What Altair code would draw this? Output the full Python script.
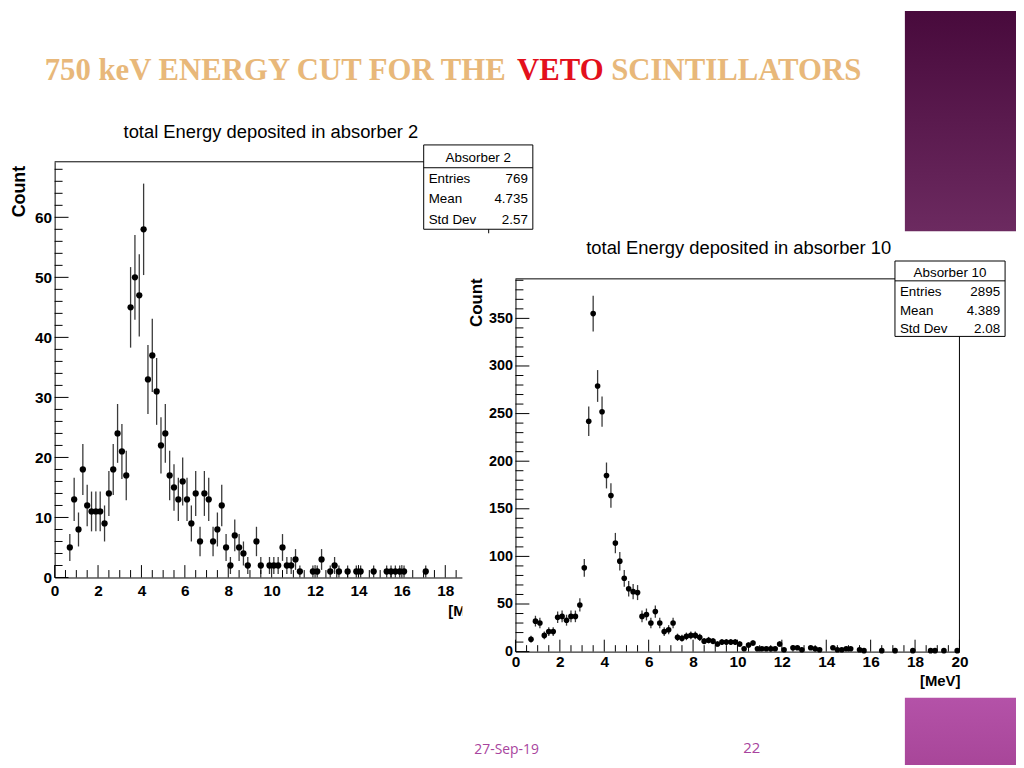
import altair as alt
import numpy as np
import pandas as pd

# ---------------- values ----------------
abs2_energy = [0.7, 0.9, 1.1, 1.3, 1.5, 1.7, 1.9, 2.1, 2.3, 2.5, 2.7, 2.9, 3.1, 3.3,
               3.5, 3.7, 3.9, 4.1, 4.3, 4.5, 4.7, 4.9, 5.1, 5.3, 5.5, 5.7, 5.9, 6.1,
               6.3, 6.5, 6.7, 6.9, 7.1, 7.3, 7.5, 7.7, 7.9, 8.1, 8.3, 8.5, 8.7, 8.9,
               9.3, 9.5, 9.9, 10.1, 10.3, 10.5, 10.7, 10.9, 11.1, 11.3, 11.9, 12.1,
               12.3, 12.7, 12.9, 13.1, 13.5, 13.9, 14.1, 14.7, 15.3, 15.5, 15.7, 15.9,
               16.1, 17.1]
abs2_counts = [5, 13, 8, 18, 12, 11, 11, 11, 9, 14, 18, 24, 21, 17,
               45, 50, 47, 58, 33, 37, 31, 22, 24, 17, 15, 13, 16, 13,
               9, 14, 6, 14, 13, 6, 8, 12, 5, 2, 7, 5, 4, 2,
               6, 2, 2, 2, 2, 5, 2, 2, 3, 1, 1, 1,
               3, 1, 2, 1, 1, 1, 1, 1, 1, 1, 1, 1,
               1, 1]

abs10_energy = [0.7, 0.9, 1.1, 1.3, 1.5, 1.7, 1.9, 2.1, 2.3, 2.5,
                2.7, 2.9, 3.1, 3.3, 3.5, 3.7, 3.9, 4.1, 4.3, 4.5,
                4.7, 4.9, 5.1, 5.3, 5.5, 5.7, 5.9, 6.1, 6.3, 6.5,
                6.7, 6.9, 7.1, 7.3, 7.5, 7.7, 7.9, 8.1, 8.3, 8.5,
                8.7, 8.9, 9.1, 9.3, 9.5, 9.7, 9.9, 10.1, 10.3, 10.5,
                10.7, 10.9, 11.1, 11.3, 11.5, 11.7, 11.9, 12.1, 12.5, 12.7,
                12.9, 13.3, 13.5, 13.7, 14.3, 14.5, 14.7, 14.9, 15.1, 15.5,
                15.7, 16.5, 17.1, 17.9, 18.7, 18.9, 19.3, 19.9]
abs10_counts = [13, 32, 30, 17, 21, 21, 36, 37, 33, 37,
                37, 49, 88, 242, 355, 279, 252, 185, 164, 114,
                95, 77, 66, 63, 62, 37, 39, 30, 42, 30,
                21, 23, 30, 15, 14, 16, 17, 17, 15, 11,
                12, 11, 8, 10, 10, 10, 10, 8, 3, 7,
                9, 3, 3, 3, 3, 3, 8, 2, 4, 4,
                2, 4, 3, 2, 4, 2, 2, 3, 3, 2,
                1, 1, 1, 1, 1, 1, 1, 1]

stat_names = ["Entries", "Mean", "Std Dev"]
abs2_stat_values = ["769", "4.735", "2.57"]
abs10_stat_values = ["2895", "4.389", "2.08"]

slide_title = ["750 keV ENERGY CUT FOR THE", "VETO", "SCINTILLATORS"]
hist_titles = ["total Energy deposited in absorber 2", "total Energy deposited in absorber 10"]
footer_date = "27-Sep-19"
footer_page = "22"

# ---------------- layout helpers ----------------
M = 8
W, H = 1016, 760
SANS = "Liberation Sans, Arial, Helvetica, sans-serif"
one = pd.DataFrame({"k": [0]})


def X(p):
    return p - M


def Y(p):
    return p - M


def text(x, y, s, size, color="black", font=SANS, weight="normal",
         align="left", angle=0, baseline="alphabetic"):
    return alt.Chart(one).mark_text(
        text=s, fontSize=size, color=color, font=font, fontWeight=weight,
        align=align, angle=angle, baseline=baseline
    ).encode(x=alt.value(X(x)), y=alt.value(Y(y)))


def rule(x1, y1, x2=None, y2=None, color="black", width=1.0):
    enc = dict(x=alt.value(X(x1)), y=alt.value(Y(y1)))
    if x2 is not None:
        enc["x2"] = alt.value(X(x2))
    if y2 is not None:
        enc["y2"] = alt.value(Y(y2))
    return alt.Chart(one).mark_rule(color=color, strokeWidth=width).encode(**enc)


def box(x1, y1, x2, y2, fill="white", stroke="black", width=1.0):
    kw = dict(fill=fill)
    if stroke is not None:
        kw.update(stroke=stroke, strokeWidth=width)
    return alt.Chart(one).mark_rect(**kw).encode(
        x=alt.value(X(x1)), x2=alt.value(X(x2)),
        y=alt.value(Y(y1)), y2=alt.value(Y(y2)))


def stat_box(x1, y1, x2, y2, ysep, header, hbase, rbases, values):
    parts = [box(x1, y1, x2, y2), rule(x1, ysep, x2=x2),
             text((x1 + x2) / 2, hbase, header, 13.5, align="center")]
    for name, val, b in zip(stat_names, values, rbases):
        parts.append(text(x1 + 5, b, name, 13.5))
        parts.append(text(x2 - 5, b, val, 13.5, align="right"))
    return parts


def histogram(energy, counts, x0, x20, y0, ytop, ymax, ymajor, yminor,
              psize, z, xt_len, yt_len, xpad, ylab):
    df = pd.DataFrame({"E": energy, "N": counts})
    xs = alt.Scale(domain=[0, 20], range=[X(x0), X(x20)], nice=False, zero=False)
    ys = alt.Scale(domain=[0, ymax], range=[Y(y0), Y(ytop)], nice=False, zero=False)
    common = dict(ticks=False, domainColor="black", domainWidth=1,
                  labelFont=SANS, labelFontWeight="bold",
                  labelColor="black", labelFlush=False, labelOverlap=False,
                  grid=False, title=None, zindex=z)
    xaxis = alt.Axis(orient="bottom", offset=Y(y0) - H, labelFontSize=15.5,
                     values=list(range(0, 21, 2)), labelPadding=xpad, **common)
    yaxis = alt.Axis(orient="left", offset=-X(x0), values=ymajor,
                     labelFontSize=ylab, labelPadding=3, **common)

    base = alt.Chart(df)
    # the first layer carries both axes, so that they are not merged away
    err = base.transform_calculate(
        lo="datum.N - sqrt(datum.N)", hi="datum.N + sqrt(datum.N)"
    ).mark_rule(color="#3a3a3a", strokeWidth=1.3).encode(
        x=alt.X("E:Q", scale=xs, axis=xaxis),
        y=alt.Y("lo:Q", scale=ys, axis=yaxis),
        y2="hi:Q")
    pts = base.mark_circle(size=psize, color="black", opacity=1).encode(
        x=alt.X("E:Q", scale=xs, axis=xaxis),
        y=alt.Y("N:Q", scale=ys, axis=yaxis))

    xmaj = pd.DataFrame({"t": np.arange(0, 20.01, 2.0)})
    xmin = pd.DataFrame({"t": [v for v in np.arange(0, 20.01, 0.5) if v % 2 != 0]})
    ymaj = pd.DataFrame({"t": ymajor})
    ymin = pd.DataFrame({"t": [v for v in yminor if v not in ymajor]})

    def xticks(d, L):
        return alt.Chart(d).mark_rule(color="black", strokeWidth=1).encode(
            x=alt.X("t:Q", scale=xs, axis=xaxis),
            y=alt.value(Y(y0)), y2=alt.value(Y(y0) - L))

    def yticks(d, L):
        return alt.Chart(d).mark_rule(color="black", strokeWidth=1).encode(
            y=alt.Y("t:Q", scale=ys, axis=yaxis),
            x=alt.value(X(x0)), x2=alt.value(X(x0) + L))

    frame = [rule(x0, ytop, x2=x20), rule(x20, ytop, y2=y0)]
    return [err, pts, xticks(xmaj, xt_len[0]), xticks(xmin, xt_len[1]),
            yticks(ymaj, yt_len[0]), yticks(ymin, yt_len[1])] + frame


# ---------------- decoration of the slide ----------------
purple_top = alt.Gradient(gradient="linear", x1=0, x2=0, y1=0, y2=1, stops=[
    alt.GradientStop(color="#480a3c", offset=0),
    alt.GradientStop(color="#6c2a60", offset=1)])
purple_bottom = alt.Gradient(gradient="linear", x1=0, x2=0, y1=0, y2=1, stops=[
    alt.GradientStop(color="#b452a8", offset=0),
    alt.GradientStop(color="#a84699", offset=1)])

decor = [
    box(912, M, 1024, 230, fill=purple_top, stroke=None),
    box(912, 700, 1024, M + H, fill=purple_bottom, stroke=None),
    text(45, 78, slide_title[0], 31, color="#E8B87A", font="Liberation Serif", weight="bold"),
    text(521, 78, slide_title[1], 31, color="#E3101C", font="Liberation Serif", weight="bold"),
    text(616, 78, slide_title[2], 31, color="#E8B87A", font="Liberation Serif", weight="bold"),
    text(478, 757, footer_date, 14, color="#A8449E", font="Open Sans"),
    text(749, 756, footer_page, 15, color="#A8449E", font="Open Sans"),
]

# ---------------- left histogram (absorber 2) ----------------
left = histogram(abs2_energy, abs2_counts, 55, 492.5, 579, 160, 69.25,
                 list(range(0, 61, 10)), list(range(0, 69, 2)),
                 40, 0, (12.5, 7.5), (14, 8), 6, 15.5)
left += [
    text(273, 136, hist_titles[0], 18.5, align="center"),
    text(20, 190, "Count", 18, weight="bold", align="center",
         angle=270, baseline="middle"),
    text(492.5, 618, "[MeV]", 15, weight="bold", align="right"),
]
left += stat_box(427, 143, 537, 228, 166, "Absorber 2", 160,
                 [181, 201.5, 222.5], abs2_stat_values)

# white sheet of the second picture, which lies over the first one
cover = [box(466, 232, 1024, 700, fill="white", stroke=None)]

# ---------------- right histogram (absorber 10) ----------------
right = histogram(abs10_energy, abs10_counts, 519.5, 967, 653.7, 278, 391.5,
                  list(range(0, 351, 50)), list(range(0, 391, 10)),
                  32, 1, (12, 6.5), (14, 8), 3, 14.5)
right += [
    text(744.5, 253, hist_titles[1], 18.5, align="center"),
    text(481, 302, "Count", 17, weight="bold", align="center",
         angle=270, baseline="middle"),
    text(968, 688, "[MeV]", 15, weight="bold", align="right"),
]
right += stat_box(902, 260, 1013, 336, 280, "Absorber 10", 276,
                  [295.5, 314.5, 333], abs10_stat_values)

chart = alt.layer(
    *decor,
    alt.layer(*left),
    *cover,
    alt.layer(*right),
).resolve_scale(x="independent", y="independent").properties(
    width=W, height=H, padding=0,
    autosize=alt.AutoSizeParams(type="none"),
    background="white",
).configure_view(stroke=None)

chart.save("out.html", embed_options={"renderer": "svg", "actions": False})
